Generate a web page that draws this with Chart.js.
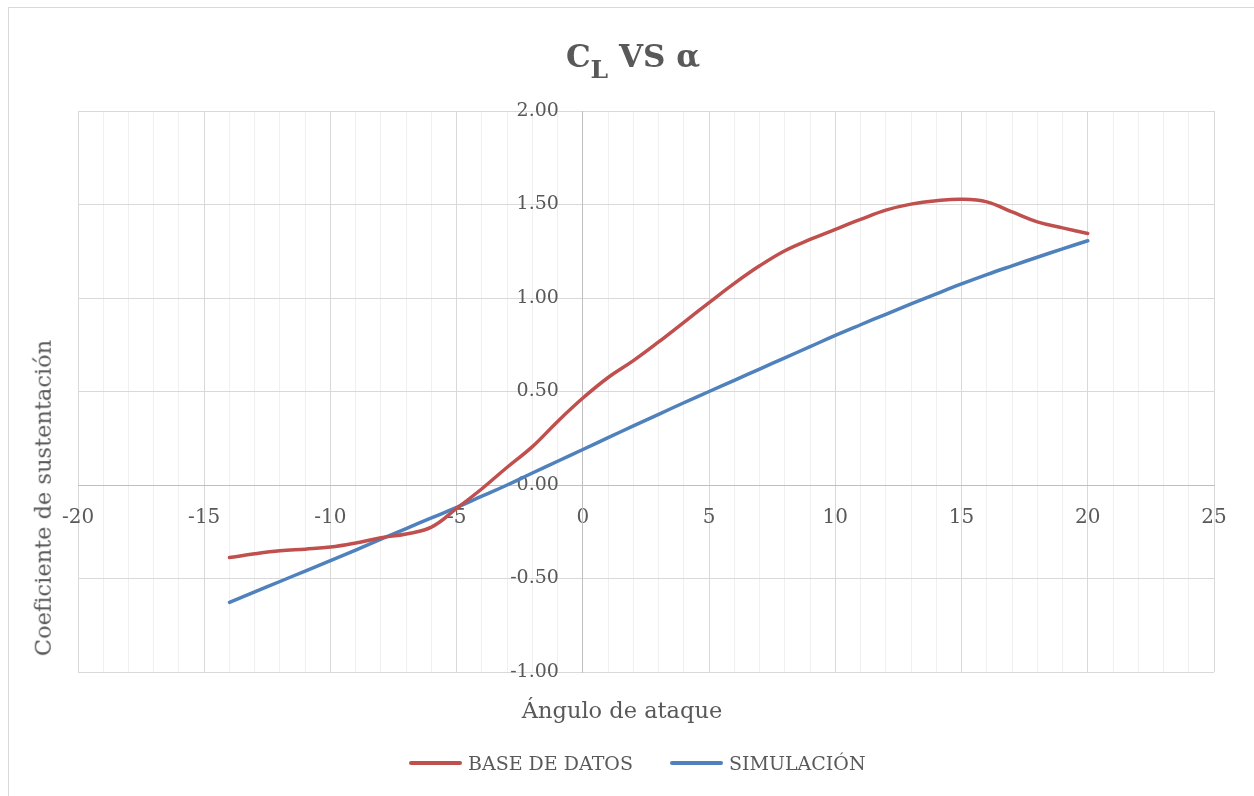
<!DOCTYPE html>
<html lang="es">
<head>
<meta charset="utf-8">
<title>CL VS α</title>
<script src="https://cdn.jsdelivr.net/npm/chart.js@4.4.1/dist/chart.umd.min.js"></script>
<style>
  html, body { margin: 0; padding: 0; background: #fff; overflow: hidden; }
  #contenedor {
    position: relative; width: 1254px; height: 796px;
    font-family: "DejaVu Serif", serif; color: #595959;
  }
  #marco {
    position: absolute; left: 8px; top: 7px; width: 1300px; height: 900px;
    border: 1px solid #d9d9d9; box-sizing: border-box;
  }
  #grafico { position: absolute; left: 0; top: 0; }
  #titulo {
    position: absolute; left: 0; top: 41px; width: 1266px; text-align: center;
    font-weight: bold; font-size: 31px; line-height: 31px; white-space: nowrap;
  }
  #titulo .sub { font-size: 25px; position: relative; top: 11px; }
  .tituloEje {
    position: absolute; font-size: 22.5px; line-height: 1; white-space: nowrap;
    transform: translate(-50%, -50%);
  }
  #tituloY { left: 43px; top: 498px; transform: translate(-50%, -50%) rotate(-90deg); }
  #tituloX { left: 622px; top: 710px; }
  .leyenda {
    position: absolute; top: 763px; transform: translateY(-50%);
    display: flex; align-items: center; font-size: 19px; white-space: nowrap;
  }
  .leyenda .linea { width: 53px; height: 3.5px; border-radius: 2px; margin-right: 6px; }
</style>
</head>
<body>
<div id="contenedor">
  <div id="marco"></div>
  <canvas id="grafico" width="1254" height="796"></canvas>
  <div id="titulo">C<span class="sub">L</span> VS α</div>
  <div id="tituloY" class="tituloEje">Coeficiente de sustentación</div>
  <div id="tituloX" class="tituloEje">Ángulo de ataque</div>
  <div class="leyenda" style="left:409px"><span class="linea" style="background:#C0504D"></span>BASE DE DATOS</div>
  <div class="leyenda" style="left:670px"><span class="linea" style="background:#4F81BD"></span>SIMULACIÓN</div>
</div>
<script>
// Datos
const anguloAtaque = [
  -14, -13, -12, -11, -10, -9, -8, -7, -6, -5, -4, -3, -2, -1, 0,
  1, 2, 3, 4, 5, 6, 7, 8, 9, 10, 11, 12, 13, 14, 15, 16, 17, 18, 19, 20,
];
const clBaseDatos = [
  -0.388, -0.368, -0.352, -0.343, -0.332, -0.31, -0.282, -0.262, -0.225, -0.125,
  -0.02, 0.095, 0.205, 0.34, 0.465,
  0.575, 0.665, 0.765, 0.87, 0.975, 1.078, 1.172, 1.253, 1.313, 1.367,
  1.42, 1.47, 1.502, 1.52, 1.528, 1.514, 1.46, 1.407, 1.375, 1.345,
];
const clSimulacion = [
  -0.628, -0.572, -0.516, -0.46, -0.405, -0.348, -0.29, -0.233, -0.176, -0.12,
  -0.06, 0.0, 0.064, 0.127, 0.19,
  0.253, 0.316, 0.378, 0.44, 0.5, 0.56, 0.62, 0.68, 0.74, 0.8,
  0.857, 0.913, 0.968, 1.022, 1.075, 1.125, 1.172, 1.218, 1.263, 1.306,
];
const etiquetasX = [-20, -15, -10, -5, 0, 5, 10, 15, 20, 25];
const etiquetasY = [-1, -0.5, 0, 0.5, 1, 1.5, 2];

const colorTexto = "#595959";
const colorEje = "#bfbfbf";
const colorRejilla = "#d9d9d9";
const colorRejillaMenor = "#f0f0f0";

function puntos(valores) {
  return anguloAtaque.map((x, i) => ({ x: x, y: valores[i] }));
}

const serie = (label, valores, color) => ({
  label: label,
  data: puntos(valores),
  showLine: true,
  borderColor: color,
  backgroundColor: color,
  borderWidth: 3.5,
  borderCapStyle: "round",
  pointRadius: 0,
  tension: 0.4,
});

new Chart(document.getElementById("grafico").getContext("2d"), {
  type: "scatter",
  data: {
    datasets: [
      serie("BASE DE DATOS", clBaseDatos, "#C0504D"),
      serie("SIMULACIÓN", clSimulacion, "#4F81BD"),
    ],
  },
  options: {
    responsive: false,
    animation: false,
    layout: { padding: { left: 78, right: 40, top: 111, bottom: 124 } },
    plugins: {
      legend: { display: false },
      title: { display: false },
      tooltip: { enabled: false },
    },
    scales: {
      x: {
        type: "linear",
        position: { y: 0 },
        min: etiquetasX[0],
        max: etiquetasX[etiquetasX.length - 1],
        ticks: {
          stepSize: 1,
          autoSkip: false,
          maxRotation: 0,
          padding: 21,
          color: colorTexto,
          font: { family: "DejaVu Serif", size: 20 },
          callback: (v) => (etiquetasX.includes(v) ? String(v) : ""),
        },
        grid: {
          drawTicks: false,
          color: (ctx) =>
            ctx.tick && etiquetasX.includes(ctx.tick.value)
              ? colorRejilla
              : colorRejillaMenor,
        },
        border: { color: colorEje, width: 1 },
      },
      y: {
        type: "linear",
        position: { x: 0 },
        min: etiquetasY[0],
        max: etiquetasY[etiquetasY.length - 1],
        ticks: { stepSize: 0.5, display: false },
        grid: { drawTicks: false, color: colorRejilla },
        border: { color: colorEje, width: 1 },
      },
      // etiquetas del eje vertical, un poco a la izquierda del eje x = 0
      yEtiquetas: {
        type: "linear",
        axis: "y",
        position: { x: -0.95 },
        min: etiquetasY[0],
        max: etiquetasY[etiquetasY.length - 1],
        ticks: {
          stepSize: 0.5,
          padding: 0,
          color: colorTexto,
          font: { family: "DejaVu Serif", size: 19 },
          callback: (v) => Number(v).toFixed(2),
        },
        grid: { display: false, drawTicks: false },
        border: { display: false },
      },
    },
  },
});
</script>
</body>
</html>
